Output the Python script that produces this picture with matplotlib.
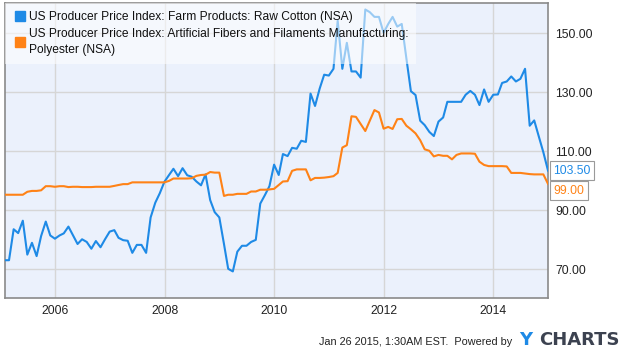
import numpy as np
import pandas as pd
import matplotlib
matplotlib.use('Agg')
import matplotlib.pyplot as plt
from matplotlib.lines import Line2D

plt.rcParams['font.family'] = ['Liberation Sans', 'DejaVu Sans']

# monthly values, Jan 2005 .. Dec 2014
dates = pd.date_range('2005-01-31', '2014-12-31', freq='ME')

cotton = [73.1, 73.1, 83.6, 82.3, 86.5, 75.0, 79.0, 74.5, 81.3, 86.2, 81.5, 80.4,
          81.5, 82.2, 84.5, 81.6, 78.6, 80.2, 79.3, 77.0, 79.6, 77.5, 80.2, 82.8,
          83.3, 80.7, 79.9, 79.7, 75.6, 78.3, 78.3, 75.6, 87.6, 92.6, 95.8, 99.7,
          102.0, 104.1, 101.6, 104.3, 101.9, 101.4, 99.8, 98.5, 102.2, 93.5, 89.4, 87.6,
          78.6, 70.2, 69.3, 76.0, 78.0, 78.0, 79.3, 80.0, 92.3, 95.2, 98.2, 105.5,
          102.0, 109.1, 108.4, 111.2, 110.9, 113.6, 113.2, 129.6, 125.4, 131.3, 136.0, 135.7,
          138.0, 154.3, 138.0, 146.8, 137.1, 137.1, 135.0, 158.1, 157.2, 155.6, 155.6, 150.2,
          153.2, 155.6, 152.3, 153.2, 141.5, 130.4, 129.1, 120.4, 118.9, 116.6, 115.2, 120.1,
          121.5, 126.8, 126.8, 126.8, 126.8, 129.2, 130.5, 129.2, 125.7, 131.0, 126.8, 129.2,
          129.3, 133.2, 133.7, 135.4, 133.7, 134.6, 138.0, 118.7, 120.5, 115.0, 109.7, 103.5]

polyester = [95.3, 95.3, 95.3, 95.3, 95.3, 96.3, 96.6, 96.6, 96.8, 98.2, 98.2, 98.0,
             98.2, 98.2, 97.9, 98.0, 98.0, 97.9, 97.9, 97.9, 98.0, 98.0, 98.0, 98.0,
             98.3, 98.6, 98.9, 98.9, 99.5, 99.5, 99.5, 99.5, 99.5, 99.5, 99.5, 99.5,
             100.0, 100.8, 100.8, 100.8, 100.8, 100.9, 101.7, 102.0, 102.1, 103.0, 102.8, 102.8,
             94.9, 95.3, 95.3, 95.6, 95.6, 95.6, 96.4, 96.4, 97.0, 97.0, 97.1, 97.3,
             98.6, 99.8, 99.9, 103.4, 103.9, 103.9, 103.9, 100.2, 101.0, 101.0, 101.1, 101.3,
             101.6, 102.7, 111.3, 112.1, 121.9, 121.7, 119.3, 116.9, 120.4, 124.0, 123.2, 117.7,
             118.3, 117.6, 120.9, 121.0, 118.7, 117.5, 116.1, 113.8, 110.7, 110.2, 108.3, 108.8,
             108.5, 108.5, 107.3, 108.8, 109.3, 109.3, 109.3, 109.2, 106.5, 105.4, 105.0, 105.0,
             105.0, 105.0, 104.9, 102.7, 102.7, 102.7, 102.5, 102.3, 102.2, 102.2, 102.2, 99.0]

labels = ['US Producer Price Index: Farm Products: Raw Cotton (NSA)',
          'US Producer Price Index: Artificial Fibers and Filaments Manufacturing:\nPolyester (NSA)']
yticks = [70, 90, 110, 130, 150]
xyears = [2006, 2008, 2010, 2012, 2014]

blue = '#1e8ae6'
orange = '#ff8216'

fig = plt.figure(figsize=(6.25, 3.52), dpi=100)
ax = fig.add_axes([0.0077, 0.1543, 0.8691, 0.8363])
ax.set_facecolor('#ebf1fc')

ax.plot(dates, cotton, color=blue, lw=1.5, zorder=3)
ax.plot(dates, polyester, color=orange, lw=1.5, zorder=3)

ax.set_xlim(dates[0], dates[-1])
ax.set_ylim(60.4, 160.2)

ax.set_yticks(yticks)
ax.set_yticklabels(['%.2f' % v for v in yticks])
ax.yaxis.tick_right()
ax.set_xticks([pd.Timestamp('%d-01-01' % y) for y in xyears])
ax.set_xticklabels([str(y) for y in xyears])
ax.tick_params(length=0, labelsize=8.7, colors='#222222')
ax.tick_params(axis='y', pad=5)
ax.tick_params(axis='x', pad=5)
ax.grid(True, color='#d6d6d6', lw=1)
ax.set_axisbelow(True)
for s in ax.spines.values():
    s.set_color('#8a8a8a')
    s.set_linewidth(1.2)

# legend
handles = [Line2D([], [], marker='s', ls='none', color=blue, markersize=6.5),
           Line2D([], [], marker='s', ls='none', color=orange, markersize=6.5)]
leg = ax.legend(handles, labels, loc='upper left', borderaxespad=0, fontsize=8.65,
                handlelength=1.2, handletextpad=0.15, labelspacing=0.4,
                borderpad=0.65, fancybox=False, frameon=True, framealpha=0.55)
leg.get_frame().set_facecolor('white')
leg.get_frame().set_edgecolor('none')
leg.set_zorder(5)
for t in leg.get_texts():
    t.set_linespacing(1.45)
    t.set_color('#111111')

# end-value labels
box = dict(boxstyle='square,pad=0.28', fc='white', ec='#9a9a9a', lw=0.8)
ax.annotate('%.2f' % cotton[-1], xy=(dates[-1], cotton[-1]), xytext=(4, 0),
            textcoords='offset points', ha='left', va='center', fontsize=8.7,
            color=blue, annotation_clip=False, bbox=box)
ax.annotate('%.2f' % polyester[-1], xy=(dates[-1], polyester[-1]), xytext=(4, -5),
            textcoords='offset points', ha='left', va='center', fontsize=8.7,
            color=orange, annotation_clip=False, bbox=box)

# footer
fig.text(0.820, 0.020, 'Jan 26 2015, 1:30AM EST.  Powered by', ha='right', va='baseline',
         fontsize=7.8, color='#222222')
fig.text(0.830, 0.020, 'Y', ha='left', va='baseline', fontsize=13,
         fontweight='bold', color=blue, family='DejaVu Sans')
fig.text(0.862, 0.020, 'CHARTS', ha='left', va='baseline', fontsize=13,
         fontweight='bold', color='#3c4250', family='DejaVu Sans')

fig.savefig('out.png', dpi=100)
